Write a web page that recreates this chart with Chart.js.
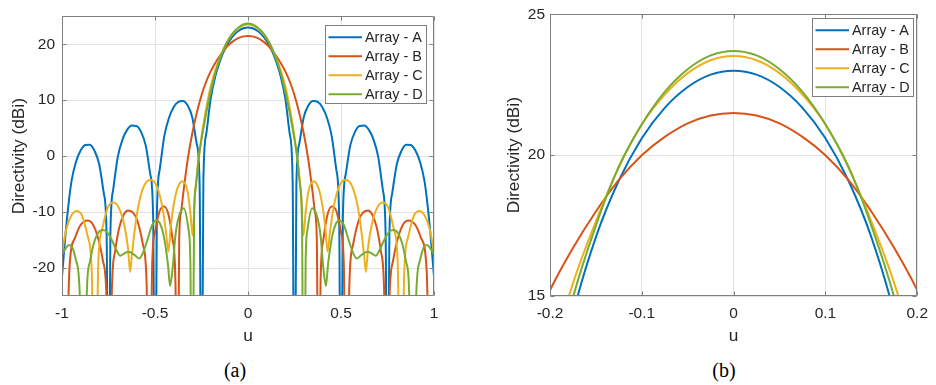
<!DOCTYPE html>
<html>
<head>
<meta charset="utf-8">
<script src="https://cdn.jsdelivr.net/npm/chart.js@4"></script>
<style>
  html, body { margin: 0; padding: 0; background: #fff; }
  body { width: 936px; height: 385px; position: relative; overflow: hidden; }
  .panel { position: absolute; top: 0; height: 350px; }
  #wrapA { left: 0; width: 450px; }
  #wrapB { left: 490px; width: 446px; }
  .cap { position: absolute; top: 359px; font-family: 'Liberation Serif', 'Times New Roman', serif;
         font-size: 20px; color: #000; transform: translateX(-50%); }
</style>
</head>
<body>
<div class="panel" id="wrapA"><canvas id="chartA"></canvas></div>
<div class="panel" id="wrapB"><canvas id="chartB"></canvas></div>
<div class="cap" style="left:235px">(a)</div>
<div class="cap" style="left:724px">(b)</div>

<script>
// series names and MATLAB default colours
const seriesNames = ['Array - A', 'Array - B', 'Array - C', 'Array - D'];
const seriesColors = ['#0072BD', '#D95319', '#EDB120', '#77AC30'];

// tick values
const xTicksFull = [-1, -0.5, 0, 0.5, 1];
const yTicksFull = [-20, -10, 0, 10, 20];
const xTicksZoom = [-0.2, -0.1, 0, 0.1, 0.2];
const yTicksZoom = [15, 20, 25];

// Array - A : u and directivity (dBi)
const uA = [-1, -0.975, -0.95, -0.925, -0.9, -0.875, -0.85, -0.825, -0.8, -0.775, -0.76, -0.75, -0.74, -0.725, -0.7, -0.675,
  -0.65, -0.625, -0.6, -0.575, -0.55, -0.525, -0.51, -0.5, -0.49, -0.475, -0.45, -0.425, -0.4, -0.375, -0.35, -0.325, -0.3,
  -0.275, -0.26, -0.25, -0.24, -0.225, -0.2, -0.175, -0.15, -0.125, -0.1, -0.075, -0.05, -0.025,
  0, 0.025, 0.05, 0.075, 0.1, 0.125, 0.15, 0.175, 0.2, 0.225, 0.24, 0.25, 0.26, 0.275, 0.3, 0.325, 0.35, 0.375, 0.4, 0.425,
  0.45, 0.475, 0.49, 0.5, 0.51, 0.525, 0.55, 0.575, 0.6, 0.625, 0.65, 0.675, 0.7, 0.725, 0.74, 0.75, 0.76, 0.775, 0.8, 0.825,
  0.85, 0.875, 0.9, 0.925, 0.95, 0.975, 1];
const dirA = [-21.5, -11.8, -4.7, -1.04, 1.0, 2.0, 2.05, 0.95, -1.46, -6.7, -14.3, -60, -14.1, -6.04, -0.13, 2.95,
  4.7, 5.46, 5.38, 4.33, 1.92, -3.3, -10.9, -60, -10.55, -2.45, 3.58, 6.83, 8.74, 9.71, 9.86, 9.08, 6.98,
  2.1, -5.25, -60, -4.5, 3.83, 10.43, 14.35, 17.09, 19.1, 20.6, 21.68, 22.42, 22.86,
  23.0, 22.86, 22.42, 21.68, 20.6, 19.1, 17.09, 14.35, 10.43, 3.83, -4.5, -60, -5.25, 2.1, 6.98, 9.08, 9.86, 9.71, 8.74, 6.83,
  3.58, -2.45, -10.55, -60, -10.9, -3.3, 1.92, 4.33, 5.38, 5.46, 4.7, 2.95, -0.13, -6.04, -14.1, -60, -14.3, -6.7, -1.46, 0.95,
  2.05, 2.0, 1.0, -1.04, -4.7, -11.8, -21.5];

// Array - B
const uB = [-1, -0.99, -0.96, -0.93, -0.9, -0.86, -0.82, -0.78, -0.76, -0.745, -0.732, -0.715, -0.69, -0.645, -0.6, -0.565,
  -0.545, -0.53, -0.515, -0.5, -0.475, -0.45, -0.425, -0.405, -0.39, -0.38, -0.37, -0.36, -0.345, -0.325, -0.3, -0.275,
  -0.25, -0.225, -0.2, -0.175, -0.15, -0.125, -0.1, -0.075, -0.05, -0.025,
  0, 0.025, 0.05, 0.075, 0.1, 0.125, 0.15, 0.175, 0.2, 0.225, 0.25, 0.275, 0.3, 0.325, 0.345, 0.36, 0.37, 0.38, 0.39, 0.405,
  0.425, 0.45, 0.475, 0.5, 0.515, 0.53, 0.545, 0.565, 0.6, 0.645, 0.69, 0.715, 0.732, 0.745, 0.76, 0.78, 0.82, 0.86, 0.9,
  0.93, 0.96, 0.99, 1];
const dirB = [-45, -60, -20.1, -14.6, -12.3, -11.5, -13.2, -18.7, -25.9, -60, -24.2, -17.1, -12.5, -9.7, -11.1, -15.8,
  -22.9, -60, -19.2, -13.6, -9.8, -9.0, -10.8, -15.0, -22.6, -60, -15.0, -10.0, -5.8, -0.8, 4.0, 7.8,
  10.9, 13.3, 15.2, 16.7, 18.0, 19.12, 20.0, 20.65, 21.13, 21.41,
  21.5, 21.41, 21.13, 20.65, 20.0, 19.12, 18.0, 16.7, 15.2, 13.3, 10.9, 7.8, 4.0, -0.8, -5.8, -10.0, -15.0, -60, -22.6, -15.0,
  -10.8, -9.0, -9.8, -13.6, -19.2, -60, -22.9, -15.8, -11.1, -9.7, -12.5, -17.1, -24.2, -60, -25.9, -18.7, -13.2, -11.5, -12.3,
  -14.6, -20.1, -60, -45];

// Array - C
const uC = [-1, -0.975, -0.95, -0.92, -0.89, -0.86, -0.84, -0.823, -0.805, -0.785, -0.755, -0.725, -0.695, -0.665, -0.645,
  -0.634, -0.625, -0.61, -0.59, -0.56, -0.525, -0.49, -0.46, -0.44, -0.428, -0.415, -0.4, -0.38, -0.353, -0.325, -0.31,
  -0.298, -0.285, -0.27, -0.25, -0.225, -0.2, -0.175, -0.15, -0.125, -0.1, -0.075, -0.05, -0.025,
  0, 0.025, 0.05, 0.075, 0.1, 0.125, 0.15, 0.175, 0.2, 0.225, 0.25, 0.27, 0.285, 0.298, 0.31, 0.325, 0.353, 0.38, 0.4, 0.415,
  0.428, 0.44, 0.46, 0.49, 0.525, 0.56, 0.59, 0.61, 0.625, 0.634, 0.645, 0.665, 0.695, 0.725, 0.755, 0.785, 0.805, 0.823,
  0.84, 0.86, 0.89, 0.92, 0.95, 0.975, 1];
const dirC = [-17.1, -12.8, -10.6, -9.8, -10.8, -14.6, -20.7, -60, -19.2, -13.2, -9.3, -8.3, -9.2, -12.3, -16.5,
  -20.7, -18.0, -13.5, -9.0, -5.4, -4.2, -5.4, -9.2, -13.8, -17.1, -12.5, -8.8, -5.8, -4.5, -6.3, -10.0,
  -14.2, -6.8, -1.8, 3.5, 8.5, 12.6, 15.45, 17.65, 19.57, 21.09, 22.15, 22.91, 23.37,
  23.52, 23.37, 22.91, 22.15, 21.09, 19.57, 17.65, 15.45, 12.6, 8.5, 3.5, -1.8, -6.8, -14.2, -10.0, -6.3, -4.5, -5.8, -8.8, -12.5,
  -17.1, -13.8, -9.2, -5.4, -4.2, -5.4, -9.0, -13.5, -18.0, -20.7, -16.5, -12.3, -9.2, -8.3, -9.3, -13.2, -19.2, -60,
  -20.7, -14.6, -10.8, -9.8, -10.6, -12.8, -17.1];

// Array - D
const uD = [-1, -0.98, -0.963, -0.945, -0.925, -0.905, -0.887, -0.865, -0.85, -0.83, -0.805, -0.78, -0.76, -0.735, -0.71,
  -0.687, -0.665, -0.642, -0.612, -0.585, -0.565, -0.54, -0.515, -0.49, -0.47, -0.45, -0.43, -0.419, -0.405, -0.39, -0.37,
  -0.345, -0.32, -0.31, -0.3, -0.29, -0.28, -0.265, -0.25, -0.225, -0.2, -0.175, -0.15, -0.125, -0.1, -0.075, -0.05, -0.025,
  0, 0.025, 0.05, 0.075, 0.1, 0.125, 0.15, 0.175, 0.2, 0.225, 0.25, 0.265, 0.28, 0.29, 0.3, 0.31, 0.32, 0.345, 0.37, 0.39,
  0.405, 0.419, 0.43, 0.45, 0.47, 0.49, 0.515, 0.54, 0.565, 0.585, 0.612, 0.642, 0.665, 0.687, 0.71, 0.735, 0.76, 0.78,
  0.805, 0.83, 0.85, 0.865, 0.887, 0.905, 0.925, 0.945, 0.963, 0.98, 1];
const dirD = [-17.6, -16.5, -15.9, -16.3, -18.6, -24.4, -60, -23.0, -18.9, -15.7, -13.7, -13.2, -13.5, -14.8, -16.6,
  -17.8, -17.4, -17.1, -17.6, -18.3, -17.3, -14.9, -12.3, -11.5, -12.3, -14.8, -19.5, -23.2, -20.0, -14.1, -10.6,
  -9.3, -13.1, -18.6, -60, -11.0, -5.3, -0.3, 3.0, 7.6, 11.6, 14.95, 17.5, 19.6, 21.1, 22.25, 23.05, 23.54,
  23.7, 23.54, 23.05, 22.25, 21.1, 19.6, 17.5, 14.95, 11.6, 7.6, 3.0, -0.3, -5.3, -11.0, -60, -18.6, -13.1, -9.3, -10.6, -14.1,
  -20.0, -23.2, -19.5, -14.8, -12.3, -11.5, -12.3, -14.9, -17.3, -18.3, -17.6, -17.1, -17.4, -17.8, -16.6, -14.8, -13.5, -13.2,
  -13.7, -15.7, -18.9, -23.0, -60, -24.4, -18.6, -16.3, -15.9, -16.5, -17.6];

Chart.defaults.font.family = "'Liberation Sans', Arial, Helvetica, sans-serif";
Chart.defaults.color = '#262626';

function buildDatasets() {
  const series = [[uA, dirA], [uB, dirB], [uC, dirC], [uD, dirD]];
  return series.map(([u, d], i) => ({
    label: seriesNames[i],
    data: u.map((x, k) => ({ x: x, y: d[k] })),
    borderColor: seriesColors[i],
    backgroundColor: seriesColors[i],
    borderWidth: 2,
    pointRadius: 0,
    cubicInterpolationMode: 'monotone',
    clip: 0,
    order: 4 - i   // later arrays drawn on top, as in the original
  }));
}

// MATLAB style box with inward ticks
const axesBox = {
  id: 'axesBox',
  afterDatasetsDraw(chart) {
    const { ctx, chartArea: a, scales } = chart;
    const L = Math.round(a.left) + 0.5, R = Math.round(a.right) - 0.5;
    const T = Math.round(a.top) + 0.5, B = Math.round(a.bottom) - 0.5;
    ctx.save();
    ctx.strokeStyle = '#7f7f7f';
    ctx.lineWidth = 1;
    ctx.beginPath();
    ctx.rect(L, T, R - L, B - T);
    scales.x.ticks.forEach(t => {
      const p = Math.round(scales.x.getPixelForValue(t.value)) + 0.5;
      ctx.moveTo(p, B); ctx.lineTo(p, B - 4);
      ctx.moveTo(p, T); ctx.lineTo(p, T + 4);
    });
    scales.y.ticks.forEach(t => {
      const p = Math.round(scales.y.getPixelForValue(t.value)) + 0.5;
      ctx.moveTo(L, p); ctx.lineTo(L + 4, p);
      ctx.moveTo(R, p); ctx.lineTo(R - 4, p);
    });
    ctx.stroke();
    ctx.restore();
  }
};

// legend box inside the axes, top right
const boxLegend = {
  id: 'boxLegend',
  afterDatasetsDraw(chart, args, opts) {
    const { ctx, chartArea: a } = chart;
    const x0 = Math.round(a.right - opts.right - opts.width);
    const y0 = Math.round(a.top + opts.top);
    ctx.save();
    ctx.fillStyle = '#fff';
    ctx.fillRect(x0, y0, opts.width, opts.height);
    ctx.strokeStyle = '#7f7f7f';
    ctx.lineWidth = 1;
    ctx.strokeRect(x0 + 0.5, y0 + 0.5, opts.width, opts.height);
    ctx.font = "14.4px 'Liberation Sans', Arial, sans-serif";
    ctx.textBaseline = 'middle';
    ctx.textAlign = 'left';
    chart.data.datasets.forEach((ds, i) => {
      const y = y0 + 12.3 + i * 19;
      ctx.strokeStyle = ds.borderColor;
      ctx.lineWidth = 2;
      ctx.beginPath();
      ctx.moveTo(x0 + 3.5, y);
      ctx.lineTo(x0 + 37, y);
      ctx.stroke();
      ctx.fillStyle = '#262626';
      ctx.fillText(ds.label, x0 + 40, y + 0.5);
    });
    ctx.restore();
  }
};

function makeOptions(cfg) {
  return {
    responsive: true,
    maintainAspectRatio: false,
    animation: false,
    events: [],
    layout: { padding: { left: 0, top: 12, right: cfg.padRight, bottom: 0 } },
    plugins: {
      legend: { display: false },
      tooltip: { enabled: false },
      boxLegend: cfg.legend
    },
    scales: {
      x: {
        type: 'linear',
        min: cfg.xMin, max: cfg.xMax,
        afterBuildTicks: s => { s.ticks = cfg.xTicks.map(v => ({ value: v })); },
        afterFit: s => { s.height = 54; },
        grid: { color: '#e2e2e2', drawTicks: false },
        border: { display: false },
        ticks: { padding: 8, autoSkip: false, maxRotation: 0, font: { size: 15.5 }, callback: v => String(v) },
        title: { display: true, text: 'u', font: { size: 17.3 }, padding: { top: 0, bottom: 3 } }
      },
      y: {
        type: 'linear',
        min: cfg.yMin, max: cfg.yMax,
        afterBuildTicks: s => { s.ticks = cfg.yTicks.map(v => ({ value: v })); },
        afterFit: s => { s.width = cfg.yWidth; },
        grid: { color: '#e2e2e2', drawTicks: false },
        border: { display: false },
        ticks: { padding: cfg.yTickPad, font: { size: 15.5 }, callback: v => String(v) },
        title: { display: true, text: 'Directivity (dBi)', font: { size: 17.3 }, padding: { top: cfg.yTitlePad, bottom: 0 } }
      }
    }
  };
}

new Chart(document.getElementById('chartA'), {
  type: 'line',
  data: { datasets: buildDatasets() },
  options: makeOptions({
    xMin: -1, xMax: 1, yMin: -25, yMax: 25,
    xTicks: xTicksFull, yTicks: yTicksFull,
    padRight: 16, yWidth: 62, yTickPad: 7, yTitlePad: 9,
    legend: { right: 8.3, top: 8.7, width: 101, height: 78 }
  }),
  plugins: [axesBox, boxLegend]
});

new Chart(document.getElementById('chartB'), {
  type: 'line',
  data: { datasets: buildDatasets() },
  options: makeOptions({
    xMin: -0.2, xMax: 0.2, yMin: 15, yMax: 25,
    xTicks: xTicksZoom, yTicks: yTicksZoom,
    padRight: 13, yWidth: 60, yTickPad: 5, yTitlePad: 13.4,
    legend: { right: 4.3, top: 3.3, width: 101, height: 78 }
  }),
  plugins: [axesBox, boxLegend]
});
</script>
</body>
</html>
